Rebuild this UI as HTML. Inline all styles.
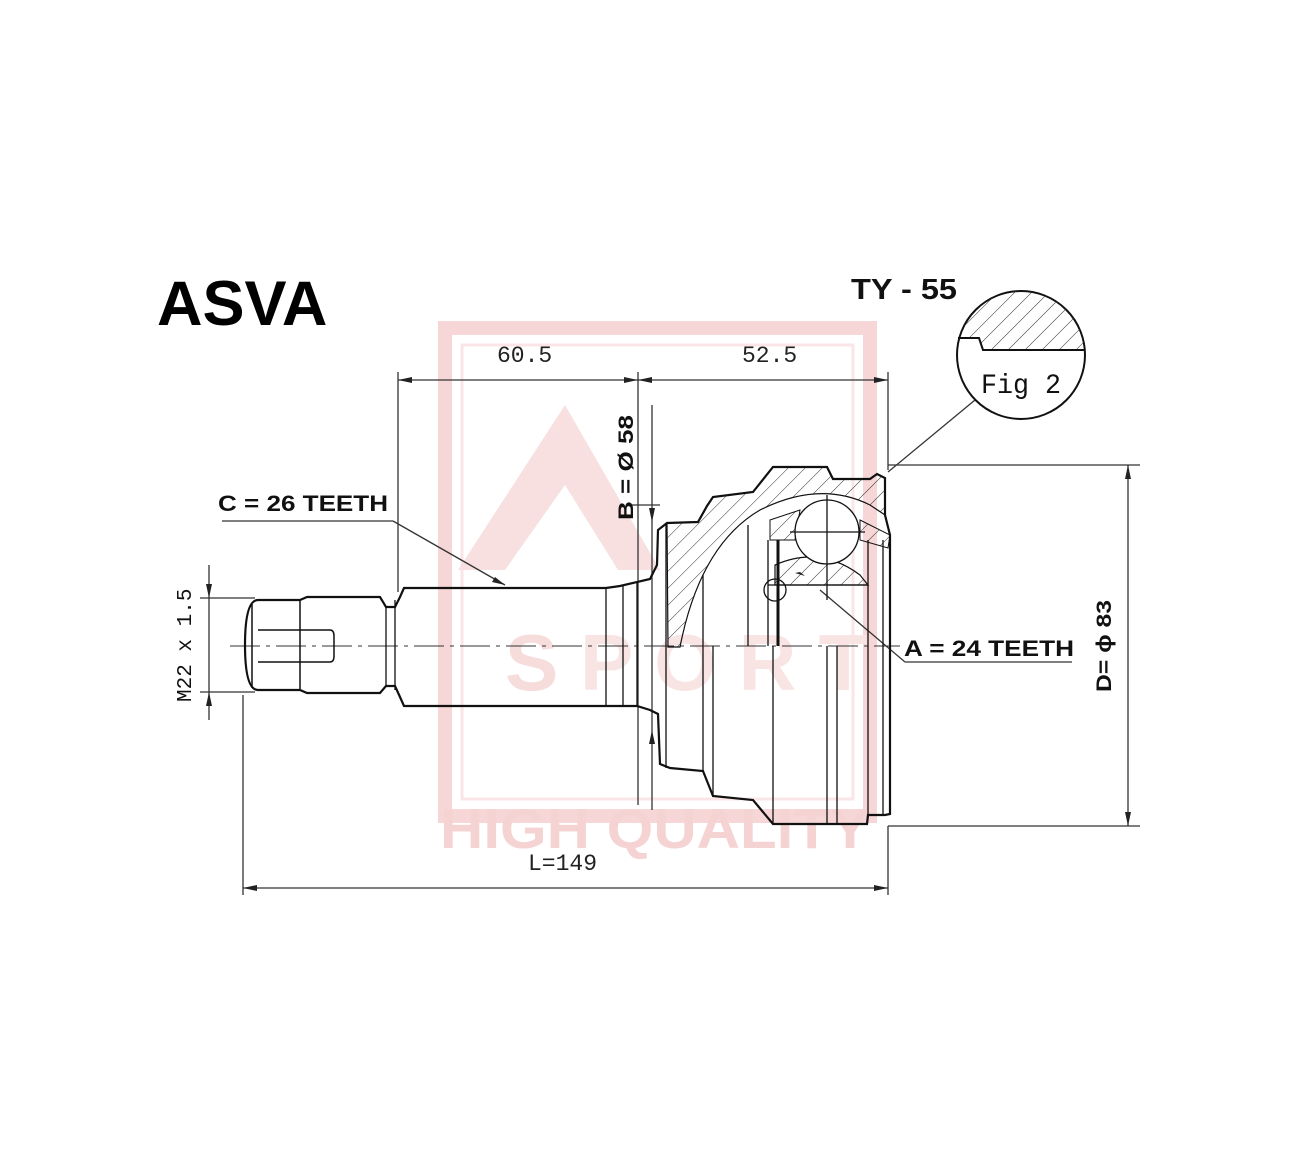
<!DOCTYPE html>
<html><head><meta charset="utf-8"><style>
html,body{margin:0;padding:0;background:#fff;}
svg{display:block}
</style></head><body>
<svg width="1300" height="1160" viewBox="0 0 1300 1160" xmlns="http://www.w3.org/2000/svg" font-family="Liberation Sans, sans-serif">
<defs>
<pattern id="h" patternUnits="userSpaceOnUse" width="12" height="12" patternTransform="rotate(45)">
<rect width="12" height="12" fill="none"/><line x1="0" y1="0" x2="0" y2="12" stroke="#333" stroke-width="1"/>
</pattern>
</defs>
<!-- watermark -->
<g fill="none" stroke="#f6d6d6">
<rect x="445" y="328" width="425" height="488" stroke-width="14"/>
<rect x="462" y="345" width="391" height="454" stroke-width="3" stroke="#fae6e6"/>
</g>
<g fill="#f8e0e0">
<path d="M458 570 L565 405 L660 570 L618 570 L565 485 L505 570Z"/>
<text x="505" y="690" font-size="80" font-weight="bold" fill="#f7dcdc">S</text>
<text x="580" y="690" font-size="80" font-weight="bold" fill="#f9e4e4">P O R T</text>
<text x="440" y="848" font-size="56" font-weight="bold" fill="#f5d3d3" textLength="430" lengthAdjust="spacingAndGlyphs">HIGH QUALITY</text>
</g>
<!-- titles -->
<text x="157" y="325" font-size="63" font-weight="bold" fill="#000">ASVA</text>
<text x="851" y="299" font-size="29" fill="#111" font-weight="bold" textLength="106" lengthAdjust="spacingAndGlyphs">TY - 55</text>
<!-- dimensions -->
<g stroke="#333" stroke-width="1.3" fill="none">
<line x1="398" y1="372" x2="398" y2="592"/>
<line x1="638" y1="372" x2="638" y2="805"/>
<line x1="888" y1="372" x2="888" y2="470"/>
<line x1="398" y1="380" x2="888" y2="380"/>
<line x1="652" y1="405" x2="652" y2="810"/>
<line x1="632" y1="505" x2="660" y2="505"/>
<line x1="888" y1="465" x2="1140" y2="465"/>
<line x1="888" y1="826" x2="1140" y2="826"/>
<line x1="1128" y1="465" x2="1128" y2="826"/>
<line x1="209" y1="565" x2="209" y2="720"/>
<line x1="200" y1="598" x2="255" y2="598"/>
<line x1="200" y1="692" x2="255" y2="692"/>
<line x1="243" y1="695" x2="243" y2="895"/>
<line x1="888" y1="826" x2="888" y2="895"/>
<line x1="243" y1="888" x2="888" y2="888"/>
<line x1="222" y1="521" x2="393" y2="521"/>
<line x1="393" y1="521" x2="505" y2="585"/>
<line x1="905" y1="662" x2="1072" y2="662"/>
<line x1="905" y1="662" x2="820" y2="590"/>
<line x1="975" y1="400" x2="888" y2="472"/>
<line x1="230" y1="646" x2="900" y2="646" stroke-dasharray="30 6 4 6" stroke-width="1"/>
</g>
<g fill="#222">
<path d="M398 380 l14 -3 v6z M638 380 l-14 -3 v6z M638 380 l14 -3 v6z M888 380 l-14 -3 v6z"/>
<path d="M1128 465 l-3 14 h6z M1128 826 l-3 -14 h6z"/>
<path d="M209 598 l-3 -14 h6z M209 692 l-3 14 h6z"/>
<path d="M243 888 l14 -3 v6z M888 888 l-14 -3 v6z"/>
<path d="M652 522 l-3 -14 h6z M652 730 l-3 14 h6z"/>
<path d="M505 585 l-13 -3 l3 -5z M800 572 l5 4 l-10 -3z"/>
</g>
<text x="497" y="362" font-size="23" fill="#222" font-family="Liberation Mono, monospace">60.5</text>
<text x="742" y="362" font-size="23" fill="#222" font-family="Liberation Mono, monospace">52.5</text>
<text x="528" y="870" font-size="23" fill="#222" font-family="Liberation Mono, monospace">L=149</text>
<text x="218" y="511" font-size="22" font-weight="bold" fill="#111" textLength="170" lengthAdjust="spacingAndGlyphs">C = 26 TEETH</text>
<text x="904" y="656" font-size="22" font-weight="bold" fill="#111" textLength="170" lengthAdjust="spacingAndGlyphs">A = 24 TEETH</text>
<text transform="translate(633,520) rotate(-90)" font-size="21" font-weight="bold" fill="#111" textLength="105" lengthAdjust="spacingAndGlyphs">B = Ø 58</text>
<text transform="translate(1111,692) rotate(-90)" font-size="21" font-weight="bold" fill="#111" textLength="92" lengthAdjust="spacingAndGlyphs">D= ϕ 83</text>
<text transform="translate(191,702) rotate(-90)" font-size="21" fill="#111" font-family="Liberation Mono, monospace">M22 x 1.5</text>
<!-- Fig 2 -->
<circle cx="1021" cy="355" r="64" fill="#fff" stroke="#111" stroke-width="2"/>
<path d="M985 302 A64 64 0 0 1 1085 350 L983 350 L980 338 L960 338 A64 64 0 0 1 985 302Z" fill="url(#h)" stroke="none"/>
<path d="M958 338 H979 L983 350 H1085" fill="none" stroke="#111" stroke-width="2"/>
<text x="981" y="393" font-size="28" fill="#111" font-family="Liberation Mono, monospace" textLength="80" lengthAdjust="spacingAndGlyphs">Fig 2</text>
<!-- shaft -->
<g stroke="#111" fill="none" stroke-width="2.2">
<path d="M258 600 H300 L307 597 H380 L386 607 H395 L400 597 L404 588 H606 L620 586 L650 579 L657 565 L658 530 L667 523 L698 522 L707 506 L713 497 L753 492 L773 467 H827 L833 479 H870 L877 474 L885 478 L885 515 L890 535 V814 L885 815 H868 L867 824 H773 L753 800 L713 796 L703 771 L670 768 L660 764 L658 714 L650 710 L637 706 H606 H404 L400 697 L395 686 H386 L380 693 H307 L300 690 H258 Q245 690 245 645 Q245 600 258 600Z"/>
<line x1="300" y1="600" x2="300" y2="690" stroke-width="1.5"/>
<line x1="252" y1="604" x2="252" y2="688" stroke-width="1.5"/>
<path d="M258 630 H330 Q334 630 334 636 V656 Q334 662 330 662 H258" stroke-width="1.5"/>
<line x1="386" y1="607" x2="386" y2="686" stroke-width="1.3"/>
<line x1="395" y1="600" x2="395" y2="690" stroke-width="1.3"/>
<line x1="606" y1="588" x2="606" y2="706" stroke-width="1.3"/>
<line x1="623" y1="586" x2="623" y2="706" stroke-width="1.3"/>
<line x1="637" y1="582" x2="637" y2="706" stroke-width="1.3"/>
<line x1="666" y1="524" x2="666" y2="768" stroke-width="1.3"/>
</g>
<!-- hatched upper section -->
<path d="M667 523 L698 522 L707 506 L713 497 L753 492 L773 467 H827 L833 479 H870 L877 474 L885 478 L885 515 L870 505 Q820 480 760 510 Q700 545 680 647 H668Z" fill="url(#h)" stroke="#111" stroke-width="1.2"/>
<path d="M775 565 Q820 545 860 575 L868 585 L775 585Z" fill="url(#h)" stroke="#111" stroke-width="1.2"/>
<path d="M770 520 L800 510 L795 540 L770 540Z" fill="url(#h)" stroke="#111" stroke-width="1"/>
<path d="M860 520 L890 535 L888 548 L860 540Z" fill="url(#h)" stroke="#111" stroke-width="1"/>
<g stroke="#111" fill="none" stroke-width="1.3">
<circle cx="827" cy="532" r="32" fill="#fff"/>
<line x1="827" y1="495" x2="827" y2="600"/>
<line x1="790" y1="532" x2="865" y2="532"/>
<circle cx="775" cy="590" r="11"/>
<line x1="703" y1="575" x2="703" y2="771"/>
<line x1="713" y1="646" x2="713" y2="796"/>
<line x1="748" y1="525" x2="748" y2="646"/>
<line x1="768" y1="540" x2="768" y2="646"/>
<line x1="778" y1="540" x2="778" y2="646" stroke-width="3"/>
<line x1="773" y1="646" x2="773" y2="824"/>
<line x1="827" y1="646" x2="827" y2="824"/>
<line x1="837" y1="646" x2="837" y2="824"/>
<line x1="868" y1="540" x2="868" y2="815"/>
<line x1="883" y1="540" x2="883" y2="814"/>
<line x1="768" y1="585" x2="868" y2="585"/>
</g>
</svg>
</body></html>
